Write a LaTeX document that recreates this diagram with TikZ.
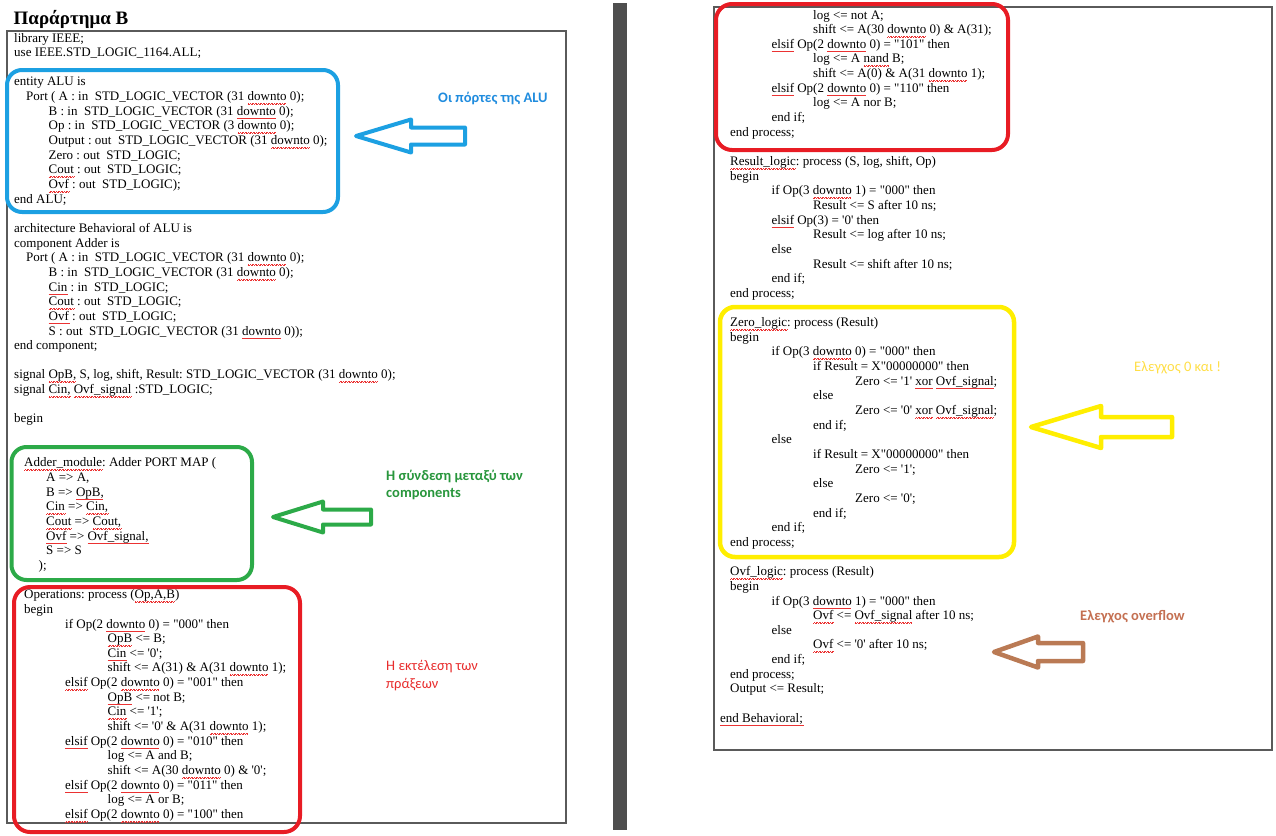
\documentclass[tikz,border=0pt]{standalone}
\usepackage{fontspec}
\setmainfont{Liberation Serif}[Ligatures=TeXOff]
\newfontfamily\labelfont{Carlito}

\definecolor{hlblue}{RGB}{28,160,226}
\definecolor{txtblue}{RGB}{32,140,222}
\definecolor{hlgreen}{RGB}{44,170,72}
\definecolor{txtgreen}{RGB}{40,150,60}
\definecolor{hlred}{RGB}{232,28,36}
\definecolor{txtred}{RGB}{232,45,45}
\definecolor{hlyellow}{RGB}{255,238,0}
\definecolor{txtyellow}{RGB}{255,222,70}
\definecolor{hlbrown}{RGB}{186,122,84}
\definecolor{txtbrown}{RGB}{196,112,82}
\definecolor{pageborder}{RGB}{90,90,90}
\definecolor{divider}{RGB}{78,78,78}
\definecolor{spellred}{RGB}{235,50,50}

% red wavy spell-check underline, built from small alternating dashes
\newsavebox\sqbox
\newcount\sqn
\newcommand\sq[1]{\sbox\sqbox{#1}\leavevmode
  \rlap{\color{spellred}\sqn=\numexpr\wd\sqbox/104858\relax
    \loop\ifnum\sqn>0 \rule[-3.6pt]{0.8pt}{0.5pt}\rule[-3.0pt]{0.8pt}{0.5pt}\advance\sqn by -1 \repeat}%
  \usebox\sqbox}

% left-pointing block arrow: tip x, tip y, head x, head half-height, tail x, body half-height, style
\newcommand\blockarrowleft[7]{%
  \draw[#7] (#1,#2) -- ({#3},{#2-#4}) -- ({#3},{#2-#6}) -- ({#5},{#2-#6})
    -- ({#5},{#2+#6}) -- ({#3},{#2+#6}) -- ({#3},{#2+#4}) -- cycle;}

\begin{document}
\begin{tikzpicture}[x=1pt,y=-1pt,
  code/.style={anchor=base west, inner sep=0pt, font=\fontsize{13}{15}\selectfont\frenchspacing},
  note/.style={anchor=base west, inner sep=0pt, font=\labelfont\fontsize{14.5}{17.5}\selectfont},
  boldnote/.style={note, font=\labelfont\bfseries\fontsize{14.5}{17.5}\selectfont},
  page/.style={draw=pageborder, line width=1.5pt},
  hl/.style={rounded corners=15pt, line width=4pt},
  barrow/.style={line width=4pt, line join=round}]
\useasboundingbox (0,0) rectangle (1276,835);

% title
\node[anchor=base west, inner sep=0pt, font=\fontsize{19}{21}\selectfont\bfseries] (title) at (13.5,24) {Παράρτημα B};

% pages and divider
\draw[page] (7,31) rectangle (566,823);
\draw[page] (714,7) rectangle (1272,750);
\fill[divider] (613,3) rectangle (627,830);

% left page code
\foreach \xx/\n/\txt [count=\i] in {
  14/0/{library IEEE;},
  14/1/{use IEEE.STD\_LOGIC\_1164.ALL;},
  14/3/{entity ALU is},
  26/4/{Port ( A : in\ \ STD\_LOGIC\_VECTOR (31 \sq{downto} 0);},
  48.5/5/{B : in\ \ STD\_LOGIC\_VECTOR (31 \sq{downto} 0);},
  48.5/6/{Op : in\ \ STD\_LOGIC\_VECTOR (3 \sq{downto} 0);},
  48.5/7/{Output : out\ \ STD\_LOGIC\_VECTOR (31 \sq{downto} 0);},
  48.5/8/{Zero : out\ \ STD\_LOGIC;},
  48.5/9/{\sq{Cout} : out\ \ STD\_LOGIC;},
  48.5/10/{\sq{Ovf} : out\ \ STD\_LOGIC);},
  14/11/{end ALU;},
  14/13/{architecture Behavioral of ALU is},
  14/14/{component Adder is},
  26/15/{Port ( A : in\ \ STD\_LOGIC\_VECTOR (31 \sq{downto} 0);},
  48.5/16/{B : in\ \ STD\_LOGIC\_VECTOR (31 \sq{downto} 0);},
  48.5/17/{\sq{Cin} : in\ \ STD\_LOGIC;},
  48.5/18/{\sq{Cout} : out\ \ STD\_LOGIC;},
  48.5/19/{\sq{Ovf} : out\ \ STD\_LOGIC;},
  48.5/20/{S : out\ \ STD\_LOGIC\_VECTOR (31 \sq{downto} 0));},
  14/21/{end component;},
  14/23/{signal \sq{OpB,} S, log, shift, Result: STD\_LOGIC\_VECTOR (31 \sq{downto} 0);},
  14/24/{signal \sq{Cin,} \sq{Ovf\_signal} :STD\_LOGIC;},
  14/26/{begin},
  24/29/{\sq{Adder\_module}: Adder PORT MAP (},
  46/30/{A => A,},
  46/31/{B => \sq{OpB,}},
  46/32/{\sq{Cin} => \sq{Cin,}},
  46/33/{\sq{Cout} => \sq{Cout,}},
  46/34/{\sq{Ovf} => \sq{Ovf\_signal,}},
  46/35/{S => S},
  38.5/36/{);},
  24/38/{Operations: process (\sq{Op,A,B})},
  24/39/{begin},
  65/40/{if Op(2 \sq{downto} 0) = "000" then},
  107.5/41/{\sq{OpB} <= B;},
  107.5/42/{\sq{Cin} <= '0';},
  107.5/43/{shift <= A(31) \& A(31 \sq{downto} 1);},
  65/44/{\sq{elsif} Op(2 \sq{downto} 0) = "001" then},
  107.5/45/{\sq{OpB} <= not B;},
  107.5/46/{\sq{Cin} <= '1';},
  107.5/47/{shift <= '0' \& A(31 \sq{downto} 1);},
  65/48/{\sq{elsif} Op(2 \sq{downto} 0) = "010" then},
  107.5/49/{log <= A and B;},
  107.5/50/{shift <= A(30 \sq{downto} 0) \& '0';},
  65/51/{\sq{elsif} Op(2 \sq{downto} 0) = "011" then},
  107.5/52/{log <= A or B;},
  65/53/{\sq{elsif} Op(2 \sq{downto} 0) = "100" then}}
  \node[code] (l\i) at (\xx,{42+14.65*\n}) {\txt};

% right page code
\foreach \xx/\n/\txt [count=\i] in {
  813/0/{log <= not A;},
  813/1/{shift <= A(30 \sq{downto} 0) \& A(31);},
  771.5/2/{\sq{elsif} Op(2 \sq{downto} 0) = "101" then},
  813/3/{log <= A \sq{nand} B;},
  813/4/{shift <= A(0) \& A(31 \sq{downto} 1);},
  771.5/5/{\sq{elsif} Op(2 \sq{downto} 0) = "110" then},
  813/6/{log <= A nor B;},
  771.5/7/{end if;},
  730/8/{end process;},
  730/10/{\sq{Result\_logic}: process (S, log, shift, Op)},
  730/11/{begin},
  771.5/12/{if Op(3 \sq{downto} 1) = "000" then},
  813/13/{Result <= S after 10 ns;},
  771.5/14/{\sq{elsif} Op(3) = '0' then},
  813/15/{Result <= log after 10 ns;},
  771.5/16/{else},
  813/17/{Result <= shift after 10 ns;},
  771.5/18/{end if;},
  730/19/{end process;},
  730/21/{\sq{Zero\_logic}: process (Result)},
  730/22/{begin},
  771.5/23/{if Op(3 \sq{downto} 0) = "000" then},
  813/24/{if Result = X"00000000" then},
  855/25/{Zero <= '1' \sq{xor} \sq{Ovf\_signal};},
  813/26/{else},
  855/27/{Zero <= '0' \sq{xor} \sq{Ovf\_signal};},
  813/28/{end if;},
  771.5/29/{else},
  813/30/{if Result = X"00000000" then},
  855/31/{Zero <= '1';},
  813/32/{else},
  855/33/{Zero <= '0';},
  813/34/{end if;},
  771.5/35/{end if;},
  730/36/{end process;},
  730/38/{\sq{Ovf\_logic}: process (Result)},
  730/39/{begin},
  771.5/40/{if Op(3 \sq{downto} 1) = "000" then},
  813/41/{\sq{Ovf} <= \sq{Ovf\_signal} after 10 ns;},
  771.5/42/{else},
  813/43/{\sq{Ovf} <= '0' after 10 ns;},
  771.5/44/{end if;},
  730/45/{end process;},
  730/46/{Output <= Result;},
  720/48/{\sq{end Behavioral;}}}
  \node[code] (r\i) at (\xx,{19+14.65*\n}) {\txt};

% highlight frames
\draw[hl, hlblue] (7,70) rectangle (338,212);
\draw[hl, hlgreen] (11.5,447) rectangle (252,580);
\draw[hl, hlred, rounded corners=16pt] (14,587) rectangle (300,832);
\draw[hl, hlred, rounded corners=16pt] (716,4) rectangle (1008,150);
\draw[hl, hlyellow, line width=4.5pt] (720,307) rectangle (1014,557);

% pointer arrows
\blockarrowleft{356}{136}{411}{16.5}{465}{8.5}{barrow, hlblue}
\blockarrowleft{273}{517}{323}{15.5}{371}{7.5}{barrow, hlgreen}
\blockarrowleft{1031}{427}{1101}{21}{1172}{10}{barrow, hlyellow, line width=4.5pt}
\blockarrowleft{994}{652}{1038}{15.5}{1083}{9}{barrow, hlbrown, line width=4.5pt}

% annotations
\node[boldnote, txtblue] (nports) at (438,102) {Οι πόρτες της ALU};
\node[boldnote, txtgreen] (nlink1) at (386,480) {Η σύνδεση μεταξύ των};
\node[boldnote, txtgreen] (nlink2) at (386,497.5) {components};
\node[note, txtred] (nexec1) at (386,670) {Η εκτέλεση των};
\node[note, txtred] (nexec2) at (386,688) {πράξεων};
\node[note, txtyellow] (nzero) at (1134,371.5) {Ελεγχος 0 και !};
\node[boldnote, txtbrown] (novf) at (1080,620.5) {Ελεγχος overflow};
\end{tikzpicture}
\end{document}
